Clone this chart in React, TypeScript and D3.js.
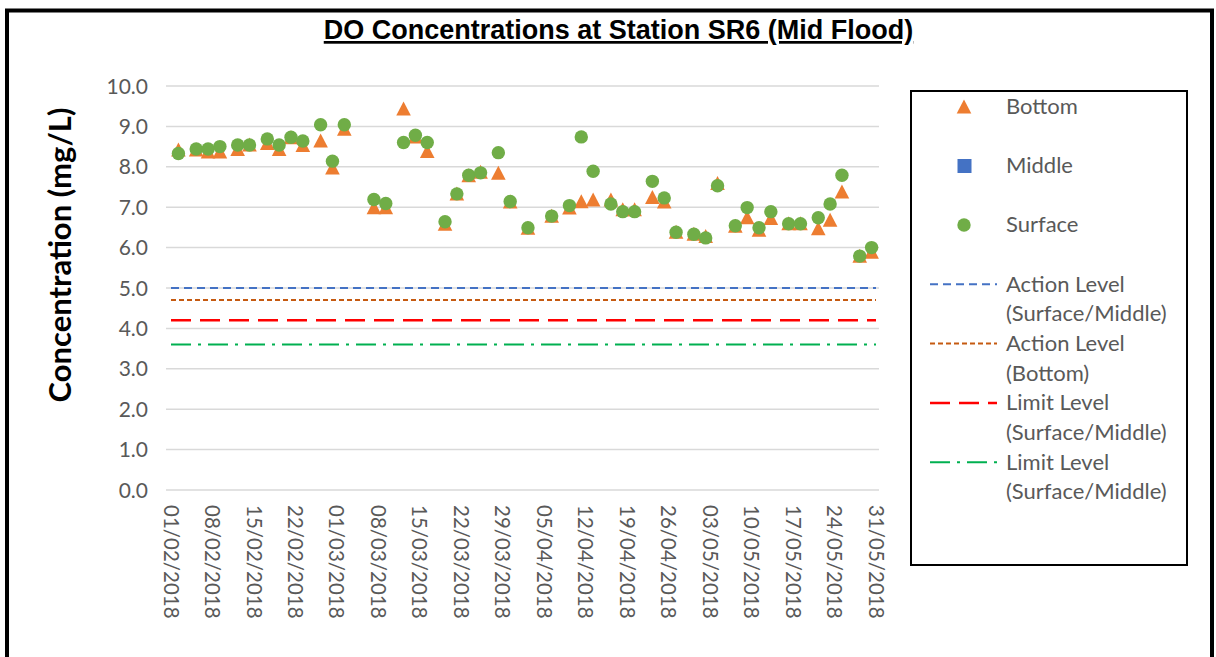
import React from 'react'
import * as d3 from 'd3'

// sampling dates (dd/mm/yyyy)
const dates = [
  '02/02/2018', '05/02/2018', '07/02/2018', '09/02/2018', '12/02/2018', '14/02/2018', '17/02/2018',
  '19/02/2018', '21/02/2018', '23/02/2018', '26/02/2018', '28/02/2018', '02/03/2018', '07/03/2018',
  '09/03/2018', '12/03/2018', '14/03/2018', '16/03/2018', '19/03/2018', '21/03/2018', '23/03/2018',
  '25/03/2018', '28/03/2018', '30/03/2018', '02/04/2018', '06/04/2018', '09/04/2018', '11/04/2018',
  '13/04/2018', '16/04/2018', '18/04/2018', '20/04/2018', '23/04/2018', '25/04/2018', '27/04/2018',
  '30/04/2018', '02/05/2018', '04/05/2018', '07/05/2018', '09/05/2018', '11/05/2018', '13/05/2018',
  '16/05/2018', '18/05/2018', '21/05/2018', '23/05/2018', '25/05/2018', '28/05/2018', '30/05/2018',
]
const bottom = [
  8.43, 8.43, 8.38, 8.38, 8.44, 8.55, 8.59, 8.44, 8.73, 8.54, 8.65, 7.98, 8.94, 7.0,
  7.0, 9.44, 8.75, 8.39, 6.59, 7.34, 7.79, 7.88, 7.85, 7.14, 6.49, 6.79, 6.99, 7.15,
  7.19, 7.19, 6.95, 6.95, 7.25, 7.14, 6.39, 6.34, 6.29, 7.6, 6.54, 6.75, 6.44, 6.73,
  6.6, 6.6, 6.48, 6.69, 7.39, 5.8, 5.9,
]
const middle: number[] = []
const surface = [
  8.33, 8.44, 8.44, 8.5, 8.54, 8.54, 8.69, 8.54, 8.73, 8.64, 9.04, 8.14, 9.04, 7.19,
  7.09, 8.6, 8.78, 8.6, 6.64, 7.33, 7.79, 7.85, 8.35, 7.14, 6.49, 6.78, 7.04, 8.74,
  7.89, 7.08, 6.89, 6.89, 7.64, 7.23, 6.38, 6.33, 6.24, 7.53, 6.54, 6.99, 6.49, 6.89,
  6.59, 6.59, 6.74, 7.08, 7.79, 5.79, 6.0,
]

// horizontal level lines
const levelDates = ['01/02/2018', '31/05/2018']
const levelValues = [5.0, 4.7, 4.2, 3.6]
const levelNames = [
  ['Action Level', '(Surface/Middle)'],
  ['Action Level', '(Bottom)'],
  ['Limit Level', '(Surface/Middle)'],
  ['Limit Level', '(Surface/Middle)'],
]
const markerNames = ['Bottom', 'Middle', 'Surface']

const xTickLabels = [
  '01/02/2018', '08/02/2018', '15/02/2018', '22/02/2018', '01/03/2018', '08/03/2018',
  '15/03/2018', '22/03/2018', '29/03/2018', '05/04/2018', '12/04/2018', '19/04/2018',
  '26/04/2018', '03/05/2018', '10/05/2018', '17/05/2018', '24/05/2018', '31/05/2018',
]
const yTicks = [0, 1, 2, 3, 4, 5, 6, 7, 8, 9, 10]

const levelStyles = [
  { color: '#4472C4', dash: '8,5', w: 2 },
  { color: '#C55A11', dash: '5,3', w: 2 },
  { color: '#FF0000', dash: '20,9', w: 2.5 },
  { color: '#00B050', dash: '20,7,3,7', w: 2 },
]
const ORANGE = '#ED7D31'
const GREEN = '#70AD47'
const BLUE = '#4472C4'
const FONT = 'Lato, "Open Sans", sans-serif'
const GREY = '#595959'

const parse = d3.timeParse('%d/%m/%Y')

const tri = (cx: number, cy: number) =>
  `M${cx},${cy - 7}L${cx + 7.3},${cy + 7}L${cx - 7.3},${cy + 7}Z`

export default function App() {
  // tick labels sit on the day, the samples a touch later in the day
  const xTick = d3.scaleTime()
    .domain([parse('01/02/2018') as Date, parse('31/05/2018') as Date])
    .range([171, 876])
  const x = d3.scaleTime()
    .domain([parse('01/02/2018') as Date, parse('31/05/2018') as Date])
    .range([172.5, 877.5])
  const y = d3.scaleLinear().domain([0, 10]).range([490, 86])
  const plotLeft = 166
  const plotRight = 879

  const line = d3.line<string>()
    .x(d => xTick(parse(d) as Date))

  return (
    <svg width={1216} height={657} style={{ position: 'absolute', left: 0, top: 0, background: '#fff' }}>
      <rect x={7} y={10.5} width={1205} height={700} fill="#fff" stroke="#000" strokeWidth={4} />
      <text x={618.5} y={39} textAnchor="middle" fontFamily='"Liberation Sans", Arial, sans-serif'
        fontWeight="bold" fontSize={27} textDecoration="underline" fill="#000">
        DO Concentrations at Station SR6 (Mid Flood)
      </text>

      {/* gridlines */}
      <g>
        {yTicks.map(t => (
          <line key={t} x1={plotLeft} x2={plotRight} y1={y(t)} y2={y(t)} stroke="#D9D9D9" strokeWidth={1.5} />
        ))}
      </g>
      {/* y tick labels */}
      <g fontFamily={FONT} fontSize={21} fill={GREY} textAnchor="end">
        {yTicks.map(t => (
          <text key={t} x={148} y={y(t)} dy="0.36em">{d3.format('.1f')(t)}</text>
        ))}
      </g>
      {/* x tick labels */}
      <g fontFamily={FONT} fontSize={20.5} fill={GREY}>
        {xTickLabels.map(l => (
          <text key={l} transform={`translate(${xTick(parse(l) as Date)},505) rotate(90)`} dy="0.36em">{l}</text>
        ))}
      </g>
      <text transform="translate(60,255) rotate(-90)" textAnchor="middle" dy="0.36em"
        fontFamily={FONT} fontWeight="bold" fontSize={31} fill="#000">
        Concentration (mg/L)
      </text>

      {/* level lines */}
      {levelValues.map((v, i) => (
        <path key={i} d={line.y(() => y(v))(levelDates) || ''} fill="none"
          stroke={levelStyles[i].color} strokeWidth={levelStyles[i].w} strokeDasharray={levelStyles[i].dash} />
      ))}

      {/* bottom */}
      <g fill={ORANGE}>
        {bottom.map((v, i) => (
          <path key={i} d={tri(x(parse(dates[i]) as Date), y(v))} />
        ))}
      </g>
      <g fill={BLUE}>
        {middle.map((v, i) => (
          <rect key={i} x={x(parse(dates[i]) as Date) - 6.5} y={y(v) - 6.5} width={13} height={13} />
        ))}
      </g>
      <g fill={GREEN}>
        {surface.map((v, i) => (
          <circle key={i} cx={x(parse(dates[i]) as Date)} cy={y(v)} r={6.7} />
        ))}
      </g>

      {/* legend */}
      <rect x={911} y={91} width={276} height={474} fill="#fff" stroke="#000" strokeWidth={2} />
      <g fontFamily={FONT} fontSize={22} fill={GREY}>
        <path d={tri(964, 106.5)} fill={ORANGE} />
        <rect x={957.5} y={159} width={14} height={14} fill={BLUE} />
        <circle cx={964} cy={225} r={6.7} fill={GREEN} />
        {markerNames.map((n, i) => (
          <text key={n} x={1006} y={114 + i * 59}>{n}</text>
        ))}
        {levelNames.map((n, i) => {
          const ly = 284.3 + i * 59.3
          const s = levelStyles[i]
          return (
            <g key={i}>
              <line x1={930} x2={997} y1={ly} y2={ly} stroke={s.color} strokeWidth={s.w} strokeDasharray={s.dash} />
              <text x={1006} y={ly + 7.5}>{n[0]}</text>
              <text x={1006} y={ly + 37}>{n[1]}</text>
            </g>
          )
        })}
      </g>
    </svg>
  )
}
